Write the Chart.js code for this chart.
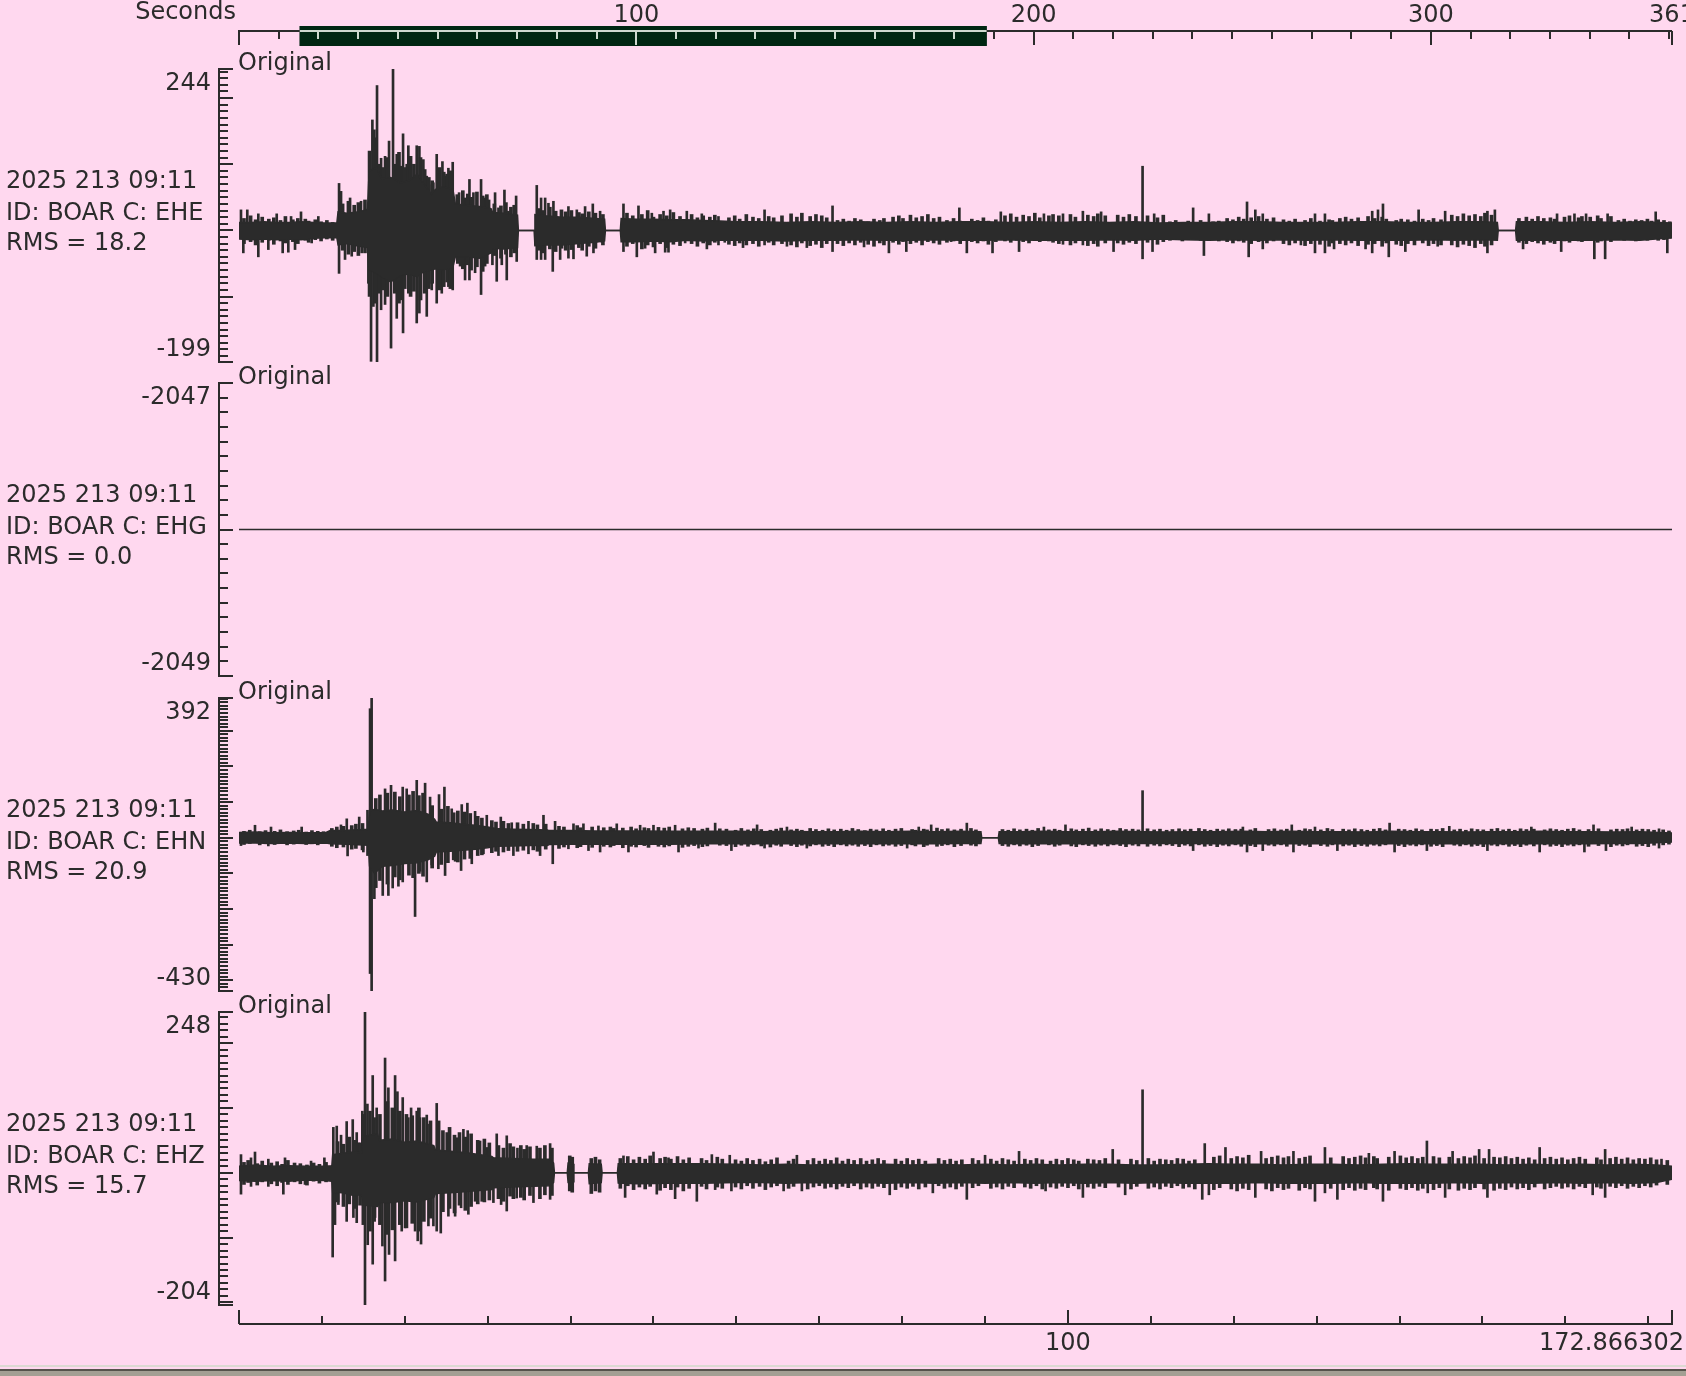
<!DOCTYPE html>
<html>
<head>
<meta charset="utf-8">
<title>BOAR 2025 213 09:11</title>
<script src="https://cdn.jsdelivr.net/npm/chart.js@4.4.1/dist/chart.umd.min.js"></script>
<style>
  html, body { margin: 0; padding: 0; }
  body { width: 1686px; height: 1376px; background: #ffd8ef; position: relative; overflow: hidden; }
  canvas { position: absolute; left: 0; }
  .edge { position: absolute; left: 0; width: 1686px; }
</style>
</head>
<body>
<canvas id="overview" width="1686" height="60" style="top:0"></canvas>
<div class="edge" style="top:1365px;height:2px;background:#dcd9d2"></div>
<div class="edge" style="top:1369px;height:2px;background:#55534b"></div>
<div class="edge" style="top:1371px;height:5px;background:#a39f93"></div>
<script>
// ---- values ----
const startLabel = '2025 213 09:11';
const station = 'BOAR';
const channels = ['EHE', 'EHG', 'EHN', 'EHZ'];
const rmsValues = [18.2, 0.0, 20.9, 15.7];
const countMin = [-199, -2049, -430, -204];
const countMax = [244, -2047, 392, 248];

const recordLength = 360.7;          // whole file, seconds
const windowSpan = [15.3, 188.17];   // selected part of the file
const windowLength = 172.866302;
const overviewTicks = [100, 200, 300];
const windowTicks = [100];

// envelope rows: [t, low, high] (solid body of the trace)
// fringe rows:   [t, low, high] (short wiggles around the body)
// spikes:        [t, count]     (single large swings)
const eheEnvelope = [
  [0,-13,12],[1.5,-14,12],[3,-13,13],[4.5,-14,12],[6,-13,12],[7.5,-14,13],[9,-12,12],[10.3,-11,11],[11.8,-11,11],
  [11.95,-22,28],[13,-20,26],[14.5,-24,28],[15.5,-26,32],
  [15.7,-60,90],[16.6,-65,95],[17.2,-70,78],[18.3,-78,80],[19.5,-68,72],[20.5,-66,75],[21.5,-70,85],[22.3,-62,70],[23.2,-60,55],[23.7,-58,62],[24.6,-60,66],[25.8,-56,62],
  [26.1,-40,40],[27.5,-40,38],[29,-42,36],[30.4,-34,33],
  [30.6,-27,27],[32,-28,26],[33.6,-26,23],
  [33.7,0,0],[35.6,0,0],
  [35.7,-23,24],[37,-22,22],[39,-22,20],[41,-20,20],[43,-18,18],[44.1,-16,17],
  [44.2,0,0],[46.0,0,0],
  [46.1,-17,18],[48,-17,17],[50,-16,17],[52,-17,16],[54,-15,16],[56,-16,15],[58,-15,14],
  [60,-15,13],[63,-15,13],[66,-16,12],[69,-15,13],[72,-15,12],[75,-14,13],[78,-15,12],[81,-15,13],[84,-14,12],[87,-15,13],
  [90,-15,13],[93,-14,12],[96,-15,13],[99,-15,12],[102,-15,13],[105,-14,12],[108,-15,13],[111,-13,11],[114,-14,12],[117,-15,12],
  [120,-14,13],[123,-15,13],[126,-14,12],[129,-15,12],[132,-14,12],[135,-15,13],[138,-15,13],[141,-15,12],[144,-14,12],[147,-15,13],
  [150,-14,13],[151.8,-15,12],[151.9,0,0],[154.0,0,0],[154.1,-15,13],[157,-15,13],[160,-15,12],[163,-15,13],[166,-14,12],[169,-15,13],[172.866,-11,11]
];
const eheFringe = [
  [0.6,-20,18],[1.4,-17,22],[2.0,-22,16],[2.8,-18,20],[3.6,-15,17],[4.2,-21,19],[5.0,-16,15],[5.6,-19,21],[6.5,-17,16],[7.1,-20,18],
  [8.0,-15,17],[8.4,-18,14],[9.2,-14,16],[9.9,-16,13],[10.6,-13,15],[11.3,-15,12],
  [12.5,-30,40],[13.2,-36,44],[13.9,-32,38],[14.4,-38,42],[15.2,-34,46],
  [15.75,-100,120],[16.45,-110,140],[16.9,-95,100],
  [17.4,-90,95],[17.9,-100,110],[18.8,-95,100],[19.3,-110,118],[20.0,-88,95],[20.7,-100,112],[21.1,-92,100],[21.9,-105,110],
  [22.4,-95,92],[22.9,-88,80],[23.3,-80,75],[24.2,-90,95],[24.7,-85,88],[25.1,-78,85],[25.5,-88,90],
  [26.4,-50,48],[27.0,-58,60],[27.6,-52,55],[28.0,-60,50],[28.7,-55,58],[29.4,-62,52],[29.9,-50,54],
  [30.8,-38,40],[31.6,-42,37],[32.2,-36,42],[32.8,-40,35],[33.2,-34,38],
  [36.1,-30,33],[36.7,-34,30],[37.5,-28,35],[38.2,-32,29],[38.9,-27,31],[39.4,-30,28],[40.1,-29,30],[41.0,-26,27],[41.4,-30,25],
  [42.2,-24,28],[43.0,-27,26],[43.9,-22,24],
  [46.8,-24,26],[47.5,-20,22],[48.6,-28,24],[49.3,-22,30],[50.0,-25,20],[50.8,-20,24],[51.6,-26,22],[52.4,-21,27],[53.2,-23,21],
  [54.6,-20,24],[55.3,-24,19],[56.0,-19,22],[56.8,-22,20],[57.4,-18,23],
  [59.1,-21,19],[59.8,-23,22],[60.4,-19,17],[61.2,-22,24],[62.0,-20,20],[62.7,-24,18],[63.9,-18,21],[64.5,-22,19],
  [65.5,-20,22],[66.6,-22,25],[67.3,-25,20],[67.9,-19,26],[68.9,-23,21],[69.6,-21,24],[70.3,-26,22],[70.9,-20,19],
  [72.2,-20,15],[72.9,-23,17],[73.6,-19,14],[74.3,-22,18],[75.0,-18,16],[75.9,-21,13],[76.6,-24,17],[77.3,-19,15],[77.8,-22,18],
  [78.9,-18,20],[79.6,-21,22],[80.1,-17,18],[81.0,-20,23],[81.7,-18,19],[82.4,-22,21],[83.1,-17,24],[83.8,-19,18],[84.5,-21,20],
  [85.4,-18,15],[86.2,-16,18],[87.0,-20,14],[88.4,-17,17],[89.1,-19,15],[89.8,-16,19],[90.4,-21,14],[91.3,-17,16],
  [92.4,-16,22],[93.1,-18,25],[93.8,-15,20],[94.6,-17,23],[95.3,-19,21],[96.0,-15,26],[96.6,-17,19],[97.7,-16,22],[98.2,-18,24],
  [98.9,-20,22],[100.3,-22,24],[100.9,-19,20],[102.4,-23,23],[103.1,-20,21],[103.6,-24,25],[104.5,-19,22],
  [106.0,-19,23],[106.7,-21,20],[107.4,-18,24],[108.2,-20,21],[109.6,-18,22],[110.8,-21,19],[111.5,-17,23],
  [112.3,-15,13],[113.0,-13,15],[113.8,-16,12],[114.5,-14,14],[115.6,-13,12],[116.0,-15,15],[117.5,-14,13],[118.2,-16,14],
  [119.2,-17,18],[119.9,-19,16],[120.6,-16,20],[121.2,-18,17],[122.1,-20,19],[123.0,-17,21],[124.0,-19,17],[124.8,-16,19],
  [126.0,-20,16],[126.7,-22,14],[127.4,-19,17],[128.6,-23,15],[129.3,-20,18],[130.4,-21,14],[131.5,-24,16],[131.9,-19,15],
  [132.8,-20,18],[133.5,-22,20],[134.2,-19,17],[135.0,-23,19],[136.2,-21,21],[137.0,-20,18],[137.9,-24,20],[138.4,-19,17],
  [139.6,-21,15],[140.2,-23,17],[141.0,-20,16],[141.8,-22,14],[142.8,-19,17],[143.5,-23,15],[144.1,-20,18],[145.0,-22,16],
  [146.3,-22,23],[147.0,-25,21],[147.7,-21,25],[148.4,-23,22],[149.1,-26,24],[149.8,-20,21],[150.3,-24,26],[151.1,-22,23],
  [154.4,-18,18],[155.3,-20,20],[156.0,-17,17],[156.7,-19,21],[157.4,-21,18],[158.2,-18,19],[158.7,-20,17],
  [159.9,-16,20],[160.5,-18,22],[161.6,-16,19],[162.0,-17,21],[163.0,-15,20],[163.9,-18,22],[164.3,-16,18],[165.5,-17,21],
  [166.4,-14,15],[167.1,-15,17],[167.8,-13,14],[168.5,-16,16],[169.2,-14,15],[169.9,-15,17],[170.4,-13,14],[171.2,-15,16],
  [171.9,-14,15],[172.6,-12,13]
];
const eheSpikes = [
  [0.24,31],[1.0,31],[2.33,25],[4.55,25],[6.28,21],[7.48,28],[9.57,21],[12.07,71],[12.31,59],[13.4,49],[14.72,44],[15.81,61],
  [16.09,167],[16.33,152],[16.65,219],[17.14,109],[17.62,112],[18.1,135],[18.58,244],[19.03,115],[19.51,97],[19.79,146],[20.23,100],
  [20.43,128],[21.44,128],[21.76,127],[22.24,107],[22.65,82],[22.93,69],[23.45,72],[23.85,115],[24.54,104],[24.94,82],[25.26,94],
  [25.78,103],[26.27,54],[26.55,57],[27.27,49],[27.8,77],[28.28,57],[29.2,77],[29.69,49],[30.17,46],[30.89,57],[31.3,34],[32.02,61],
  [32.5,29],[33.43,52],[35.92,68],[36.44,49],[36.93,49],[37.33,41],[37.93,44],[39.74,36],[40.75,31],[41.75,36],[42.68,40],[43.56,29],
  [46.38,40],[48.19,37],[49.8,26],[51.21,29],[52.01,31],[54.02,29],[55.83,25],[57.84,21],
  [0.52,-34],[2.33,-40],[3.54,-29],[5.27,-34],[5.95,-33],[6.76,-29],[8.77,-19],[12.07,-65],[12.79,-44],[13.6,-39],[14.8,-34],
  [15.61,-80],[15.93,-198],[16.21,-115],[16.65,-199],[17.14,-120],[17.62,-112],[18.34,-178],[19.03,-133],[19.51,-105],[19.79,-155],
  [20.43,-95],[21.44,-140],[21.76,-125],[22.65,-130],[23.25,-90],[23.85,-110],[24.46,-95],[25.26,-85],[25.78,-90],[26.67,-54],
  [27.27,-75],[27.8,-75],[28.48,-64],[29.2,-97],[29.69,-54],[30.57,-52],[31.09,-77],[31.7,-52],[32.3,-75],[33.5,-47],[35.92,-44],
  [36.44,-44],[36.93,-44],[37.85,-62],[38.74,-44],[39.74,-42],[40.35,-43],[41.95,-39],[42.76,-34],[43.77,-18],[46.38,-32],[47.99,-40],
  [48.99,-27],[50.2,-34],[51.41,-33],[51.81,-33],[53.82,-19],[56.44,-28],[57.84,-22],
  [63.4,31],[71.6,37],[86.9,34],[91.9,28],[97.1,25],[99.4,25],[101.8,29],[104.0,28],[109.0,97],[110.4,25],[115.1,34],[117.0,25],
  [121.6,43],[122.6,31],[123.5,25],[129.8,25],[131.0,25],[136.7,29],[137.4,31],[138.0,40],[142.3,31],[145.5,29],[150.6,29],[151.5,31],
  [159.0,25],[161.1,25],[162.5,25],[165.1,25],[170.9,28],
  [58.6,-18],[60.8,-26],[63.4,-22],[66.1,-24],[68.5,-26],[71.6,-32],[75.4,-25],[78.4,-34],[80.5,-32],[85.9,-17],[87.8,-34],[90.9,-34],
  [94.1,-32],[99.4,-21],[101.8,-22],[105.5,-32],[109.0,-43],[110.2,-32],[116.4,-38],[121.8,-40],[123.5,-28],[128.1,-22],[129.8,-34],
  [131.0,-34],[132.1,-28],[135.9,-28],[136.7,-34],[138.7,-40],[140.7,-32],[144.6,-24],[150.6,-34],[154.9,-28],[159.5,-32],[163.5,-43],
  [164.8,-43],[172.3,-34]
];

const ehgTimes = [0, 172.866302];
const ehgCounts = [-2048, -2048];

const ehnEnvelope = [
  [0,-15,15],[2,-15,16],[4,-16,14],[6,-15,15],[8,-16,14],[10.5,-15,15],
  [11,-17,20],[13,-18,21],[15.6,-21,24],
  [15.75,-80,75],[16.35,-100,80],[17.3,-80,75],[18.5,-78,78],[20,-72,72],[21.5,-70,76],[22.8,-62,66],[23.6,-52,52],
  [23.8,-40,44],[25.5,-38,42],[27,-35,38],[28.5,-32,35],[30,-28,30],
  [31,-24,26],[33,-23,24],[35,-22,23],[37.2,-22,22],
  [37.4,-19,20],[40,-18,20],[43,-18,19],[44.3,-18,19],[48,-18,19],[52,-18,18],[56,-17,18],
  [60,-17,18],[63,-17,17],[66,-17,18],[69,-16,17],[72,-17,17],[75,-17,18],[78,-17,17],[81,-16,18],[84,-17,17],[87,-16,18],[89.5,-16,17],
  [89.6,0,0],[91.6,0,0],
  [91.7,-16,17],[94,-17,17],[97,-16,18],[100,-17,17],[103,-16,17],[106,-17,18],[109,-16,17],[112,-16,16],[115,-16,17],[118,-17,17],
  [121,-17,18],[124,-17,17],[127,-17,18],[130,-16,17],[133,-17,17],[136,-16,16],[139,-17,18],[142,-16,17],[145,-17,17],[148,-16,16],
  [151,-17,17],[154,-16,17],[157,-17,18],[160,-16,17],[163,-17,17],[166,-16,16],[169,-16,17],[172.866,-12,13]
];
const ehnFringe = [
  [0.6,-19,18],[1.3,-16,21],[2.5,-20,17],[3.2,-17,20],[4.3,-19,18],[5.0,-16,22],[5.8,-20,17],[6.6,-18,19],[7.2,-15,21],[8.1,-19,16],
  [8.8,-17,20],[9.5,-20,18],[10.2,-16,17],
  [11.2,-24,26],[11.8,-28,30],[12.6,-26,32],[13.6,-32,34],[14.1,-30,38],[14.9,-34,40],
  [16.5,-140,110],[17.0,-120,120],[17.9,-130,125],[18.8,-110,128],[19.4,-118,115],[20.5,-105,120],[21.0,-112,130],[21.7,-100,118],
  [22.2,-108,125],[23.3,-85,90],
  [24.4,-75,80],[25.2,-70,88],[25.9,-62,70],[26.4,-68,75],[27.2,-60,72],[27.9,-58,68],[28.8,-50,60],[29.3,-48,55],
  [30.5,-42,48],[31.0,-38,44],[31.9,-40,46],[32.5,-36,40],[33.6,-38,42],[34.3,-35,38],[35.5,-34,40],[36.0,-38,36],[37.0,-32,38],
  [38.6,-30,32],[39.2,-26,30],[40.8,-28,34],[41.2,-25,28],[42.6,-27,30],[44.0,-24,28],[44.8,-26,30],[45.2,-22,26],[46.3,-28,27],
  [47.3,-24,30],[47.9,-26,25],[48.9,-22,28],[49.4,-27,26],[50.6,-24,29],[51.3,-26,27],[51.9,-23,30],[53.5,-27,25],[54.2,-24,28],
  [54.9,-22,26],[55.9,-25,24],[56.5,-23,27],[58.0,-21,25],
  [58.8,-22,24],[59.9,-25,21],[60.6,-21,26],[61.4,-24,22],[62.1,-20,25],[63.0,-23,23],[64.1,-26,21],[64.8,-21,24],[65.4,-24,27],
  [66.6,-22,22],[67.3,-25,24],[67.9,-21,21],[68.9,-23,26],[69.6,-20,23],[70.4,-24,21],[71.1,-22,25],[71.8,-25,22],[72.6,-20,24],
  [73.3,-23,21],[74.0,-21,26],[74.7,-24,23],[75.5,-22,20],[76.2,-25,24],[76.9,-20,22],[77.7,-23,25],[78.4,-21,21],[79.2,-24,24],
  [79.9,-22,26],[81.2,-20,23],[81.6,-23,21],[82.6,-25,24],[83.0,-21,22],[84.2,-24,27],[84.8,-22,23],[85.5,-20,25],[86.3,-25,22],
  [87.1,-22,24],[88.3,-21,26],[88.9,-23,22],
  [92.1,-22,23],[92.8,-24,21],[93.5,-20,25],[94.2,-23,22],[95.0,-21,24],[95.7,-25,21],[96.4,-22,26],[97.7,-20,22],[98.4,-24,24],
  [99.0,-21,21],[100.4,-23,25],[101.0,-25,22],[101.8,-20,24],[102.5,-22,27],[103.3,-24,22],[104.0,-21,25],[104.8,-23,23],
  [105.5,-20,21],[106.3,-22,26],[107.0,-25,23],[107.8,-21,24],[108.5,-23,22],[109.6,-24,25],[110.4,-21,22],[111.1,-23,24],
  [111.9,-20,21],[112.6,-22,23],[113.4,-25,25],[114.1,-21,22],[114.8,-23,24],[115.8,-20,26],[116.5,-24,23],[117.2,-22,21],
  [118.0,-25,24],[118.7,-21,22],[119.4,-23,25],[120.2,-20,23],[120.9,-24,24],[122.0,-22,22],[122.6,-25,26],[124.2,-21,23],
  [124.9,-23,25],[125.7,-20,22],[126.4,-24,24],[127.9,-22,21],[128.6,-21,25],[129.2,-25,23],[130.5,-22,22],[131.3,-24,26],
  [131.9,-20,23],[133.2,-23,24],[133.9,-21,22],[134.6,-25,25],[135.4,-22,23],[136.1,-24,21],[136.9,-21,24],[137.6,-23,26],
  [138.3,-20,22],[139.9,-22,24],[140.6,-25,23],[141.3,-21,21],[142.0,-23,25],[142.7,-20,22],[143.8,-24,24],[144.5,-22,23],
  [145.2,-25,26],[146.6,-21,22],[147.3,-23,24],[148.0,-20,21],[148.7,-24,25],[149.4,-22,23],[150.1,-25,22],[151.1,-21,24],
  [151.8,-23,26],[152.5,-20,22],[153.2,-24,24],[153.9,-22,21],[154.6,-25,25],[155.3,-21,23],[156.2,-23,24],[157.5,-20,22],
  [158.2,-24,25],[158.9,-22,23],[159.6,-25,21],[160.3,-21,24],[161.0,-23,26],[161.7,-20,22],[162.8,-24,23],[164.0,-22,25],
  [165.5,-25,22],[166.2,-21,24],[166.9,-23,23],[167.5,-20,25],[168.6,-24,22],[169.3,-22,24],[170.0,-25,23],[170.7,-21,21],
  [171.8,-20,22],[172.5,-18,19]
];
const ehnSpikes = [
  [1.93,35],[3.86,30],[7.56,30],[12.3,36],[13.0,53],[14.5,58],[15.5,77],[15.81,362],[16.0,392],[17.62,137],[18.34,147],[19.75,142],
  [20.23,137],[21.44,161],[22.45,153],[23.05,114],[24.13,121],[24.78,142],[25.66,81],[26.87,93],[27.55,97],[28.48,74],[29.89,63],
  [31.58,58],[32.9,42],[34.92,46],[36.73,63],[38.13,46],[40.35,39],[41.55,39],[43.36,33],[45.57,39],[48.39,35],[50.0,35],[52.61,35],[57.44,41],
  [0.24,-22],[3.54,-23],[13.1,-51],[15.0,-40],[15.5,-50],[15.81,-381],[16.0,-430],[16.33,-171],[17.34,-162],[18.02,-162],[18.54,-141],
  [19.23,-136],[19.75,-124],[21.24,-221],[21.84,-94],[22.65,-124],[23.25,-76],[24.05,-87],[24.86,-106],[26.07,-66],[26.79,-92],
  [28.08,-73],[29.49,-45],[31.3,-50],[33.1,-50],[34.92,-45],[36.32,-50],[37.85,-73],[39.74,-31],[42.16,-36],[43.56,-40],[46.98,-40],
  [53.02,-40],[55.43,-29],
  [62.5,36],[66.1,30],[82.0,30],[83.5,36],[87.8,41],[97.1,30],[99.7,36],[109.0,132],[121.1,30],[127.0,36],[129.8,30],[138.8,41],
  [146.0,32],[155.9,30],[163.4,36],[168.0,30],[171.3,25],
  [59.4,-36],[63.4,-29],[68.5,-29],[80.6,-29],[115.1,-36],[121.6,-40],[123.5,-36],[127.2,-40],[132.5,-36],[139.4,-40],[143.3,-36],
  [150.6,-36],[156.9,-40],[162.3,-40],[164.9,-36],[171.3,-29]
];

const ehzEnvelope = [
  [0,-12,10],[2,-13,12],[4,-12,10],[6,-13,11],[8,-11,10],[10.3,-12,10],[11.2,-13,11],
  [11.3,-30,28],[12.5,-31,30],[13.8,-35,32],[14.8,-34,31],
  [14.9,-50,56],[16.7,-52,60],
  [16.95,-46,50],[18.5,-46,52],[20,-43,47],[21.5,-45,49],[23.5,-38,42],
  [23.7,-32,35],[25.5,-31,33],[27.5,-29,31],[30.5,-26,25],
  [30.7,-23,23],[33,-22,22],[35.5,-21,21],[37.5,-20,21],[37.95,-15,15],
  [38.05,0,0],[39.6,0,0],[39.7,-15,15],[40.3,-14,14],[40.4,0,0],[42.15,0,0],[42.25,-17,14],[43.7,-15,13],[43.8,0,0],[45.65,0,0],
  [45.75,-16,14],[48,-17,14],[52,-16,14],[56,-16,14],
  [60,-15,13],[63,-15,12],[66,-16,13],[69,-15,12],[72,-16,13],[75,-15,12],[78,-16,13],[81,-15,12],[84,-16,13],[87,-15,12],
  [90,-16,13],[93,-15,12],[96,-16,13],[99,-15,12],[102,-16,13],[105,-15,13],[108,-16,12],[111,-15,12],[114,-16,13],[117,-16,14],
  [120,-16,13],[123,-15,13],[126,-16,12],[129,-16,13],[132,-16,13],[135,-15,12],[138,-16,13],[141,-16,14],[144,-16,13],[147,-15,13],
  [150,-16,13],[153,-15,12],[156,-16,13],[159,-15,12],[162,-16,13],[165,-15,12],[168,-16,13],[171,-15,12],[172.866,-10,10]
];
const ehzFringe = [
  [0.6,-18,16],[1.1,-15,19],[2.2,-19,14],[2.8,-14,18],[3.9,-17,15],[4.6,-20,17],[5.2,-15,13],[5.9,-18,19],[6.7,-14,15],[7.4,-17,14],
  [8.2,-19,12],[9.0,-13,15],[9.7,-16,13],[10.5,-14,16],
  [11.9,-45,48],[12.6,-52,44],[13.3,-48,55],[14.0,-55,50],[14.6,-50,46],
  [15.0,-80,90],[15.8,-90,95],[16.3,-75,85],
  [17.0,-80,90],[17.9,-95,110],[18.5,-88,100],[19.4,-80,95],[20.2,-85,90],[20.9,-78,88],[21.7,-90,100],[22.3,-75,85],[23.1,-70,80],
  [24.6,-60,65],[25.4,-55,70],[26.0,-62,58],[26.6,-50,62],[27.3,-58,55],[28.0,-52,60],[28.8,-48,50],[29.6,-45,52],[30.2,-42,46],
  [31.3,-40,42],[31.9,-44,38],[32.7,-36,45],[33.1,-40,40],[34.0,-38,42],[34.4,-42,36],[35.1,-35,40],[36.3,-40,38],[36.9,-34,42],
  [37.75,-35,38],[39.9,-28,26],[40.2,-30,24],[42.5,-32,22],[43.0,-28,24],[43.5,-30,20],
  [46.0,-24,22],[46.9,-20,25],[47.6,-26,20],[48.3,-22,24],[49.0,-25,21],[49.6,-21,26],[50.8,-27,22],[51.4,-23,24],[52.1,-26,21],
  [52.9,-22,25],[53.6,-28,20],[54.3,-24,23],[55.8,-21,22],[56.4,-25,19],[57.7,-22,24],[58.3,-24,21],
  [59.9,-22,20],[60.6,-25,18],[61.3,-20,22],[62.0,-24,19],[62.8,-21,21],[63.5,-26,17],[64.2,-22,20],[64.9,-20,23],[66.3,-24,18],
  [66.9,-21,21],[68.6,-25,19],[69.3,-22,22],[70.0,-20,18],[70.7,-24,21],[71.4,-22,19],[72.1,-25,23],[72.8,-21,18],[73.5,-23,21],
  [74.2,-20,19],[75.0,-25,22],[75.7,-22,18],[76.4,-24,20],[77.1,-21,22],[77.8,-23,19],[79.2,-26,21],[79.9,-22,18],[80.6,-24,22],
  [81.3,-21,19],[82.0,-25,21],[82.8,-22,18],[84.4,-20,22],[85.1,-24,19],[85.8,-22,21],[86.5,-25,18],[87.2,-21,20],[88.5,-23,22],
  [89.2,-20,19],[90.7,-24,21],[91.4,-22,18],[92.1,-25,22],[92.8,-21,20],[93.5,-23,18],[94.8,-22,21],[95.5,-24,19],[96.2,-20,22],
  [96.9,-25,20],[97.9,-22,18],[98.6,-24,21],[99.3,-21,19],[100.0,-23,22],[100.7,-20,20],[101.3,-25,18],[102.4,-22,21],[103.1,-24,20],
  [103.8,-21,19],[104.5,-23,22],[106.1,-22,20],[107.6,-25,21],[108.3,-21,19],[109.7,-24,22],[110.4,-22,18],[111.1,-25,21],
  [111.8,-21,20],[112.5,-23,19],[113.2,-20,22],[113.9,-24,21],[114.6,-22,18],[115.3,-25,20],[117.6,-26,24],[118.3,-23,26],
  [119.7,-25,22],[120.4,-28,25],[121.1,-24,23],[121.8,-26,27],[123.9,-25,22],[124.6,-28,24],[125.3,-23,26],[126.0,-26,23],
  [126.6,-24,25],[127.9,-27,22],[128.6,-23,24],[129.2,-25,26],[131.7,-24,23],[133.2,-26,25],[133.9,-23,22],[134.6,-27,24],
  [135.3,-24,26],[135.9,-26,23],[136.9,-23,25],[137.3,-25,22],[138.7,-27,24],[140.1,-24,26],[140.8,-26,23],[141.5,-23,25],
  [142.2,-27,22],[142.8,-24,24],[144.1,-26,25],[144.8,-23,23],[146.0,-25,24],[147.1,-27,22],[147.8,-24,25],[148.5,-26,23],
  [149.1,-23,26],[150.2,-25,22],[151.4,-27,24],[152.1,-24,23],[152.8,-26,25],[153.5,-22,22],[154.2,-25,24],[154.9,-23,21],
  [155.6,-26,23],[156.3,-22,20],[157.5,-25,22],[158.2,-23,24],[158.9,-21,21],[159.6,-24,23],[160.3,-22,20],[161.0,-25,22],
  [161.7,-21,24],[162.4,-23,21],[163.8,-22,23],[164.3,-24,20],[165.4,-21,22],[166.1,-23,24],[166.8,-20,21],[167.5,-24,23],
  [168.2,-21,20],[168.9,-23,22],[169.6,-20,21],[170.3,-22,23],[171.0,-19,20],[172.3,-18,19]
];
const ehzSpikes = [
  [0.24,28],[1.45,23],[1.93,32],[3.54,21],[5.55,23],[8.69,18],[10.3,23],[11.38,70],[11.79,72],[12.31,58],[12.99,79],[13.72,82],
  [14.2,62],[14.48,46],[14.88,95],[15.2,248],[15.49,106],[16.13,150],[16.61,100],[17.62,177],[18.02,131],[18.83,150],[19.11,125],
  [19.75,116],[20.43,85],[20.76,100],[21.44,95],[21.84,85],[22.65,89],[22.97,75],[23.85,107],[24.14,80],[25.06,62],[26.27,54],
  [27.07,67],[27.59,65],[29.08,49],[29.89,39],[31.09,60],[32.3,57],[33.59,38],[34.71,42],[35.92,41],[37.53,45],[46.38,26],[50.0,32],
  [51.81,23],[57.04,28],
  [0.24,-33],[1.45,-21],[3.54,-21],[5.35,-33],[7.96,-18],[11.3,-130],[11.58,-80],[11.99,-49],[12.99,-75],[13.8,-69],[14.2,-77],
  [15.2,-204],[15.53,-111],[16.13,-141],[16.41,-69],[17.3,-113],[17.62,-167],[18.1,-126],[18.83,-136],[19.63,-90],[20.03,-85],
  [21.24,-90],[21.56,-105],[21.96,-110],[22.85,-82],[23.45,-82],[23.85,-90],[24.34,-93],[25.26,-67],[26.07,-67],[26.79,-54],
  [27.67,-64],[28.48,-44],[29.28,-44],[30.69,-46],[31.62,-49],[32.3,-59],[33.5,-39],[35.52,-46],[37.53,-41],[46.58,-38],[50.4,-33],
  [52.61,-40],[55.23,-44],[57.44,-26],
  [59.2,27],[67.3,27],[90.0,27],[94.1,33],[105.4,36],[109.0,128],[116.5,45],[119.0,39],[123.3,33],[127.2,33],[131.0,39],[136.3,30],
  [139.4,33],[143.3,49],[146.4,33],[149.6,36],[150.8,36],[156.9,39],[164.8,36],[171.6,21],
  [59.4,-28],[65.7,-28],[67.9,-28],[78.5,-34],[83.7,-31],[87.8,-41],[97.3,-28],[101.8,-38],[106.9,-34],[116.2,-41],[117.0,-34],
  [122.6,-38],[129.8,-44],[131.0,-31],[132.5,-41],[138.0,-44],[143.4,-31],[145.5,-38],[150.6,-38],[163.3,-34],[164.8,-38]
];

// ---- drawing ----
const ink = '#2b2b2b';
const windowGreen = '#002612';
const font = '24px "DejaVu Sans", sans-serif';
const plotLeft = 239, plotRight = 1672;
const firstTop = 69, pitch = 314.33, span = 293;

// scale of the whole file, drawn across the selected window bar
const overviewFrame = {
  id: 'overviewFrame',
  afterDatasetsDraw(chart) {
    const { ctx, chartArea: area, scales: { x } } = chart;
    const lineY = area.top + 5;
    const scalePath = () => {
      ctx.beginPath();
      ctx.moveTo(area.left - 1, lineY);
      ctx.lineTo(area.right, lineY);
      for (let s = 0; s <= x.max; s += 10) {
        const px = Math.round(x.getPixelForValue(s));
        ctx.moveTo(px, lineY);
        ctx.lineTo(px, lineY + (s % 100 === 0 ? 14 : 8));
      }
      ctx.moveTo(area.right, lineY);
      ctx.lineTo(area.right, lineY + 14);
      ctx.stroke();
    };
    ctx.save();
    ctx.lineWidth = 2;
    ctx.strokeStyle = ink;
    scalePath();
    const bar = chart.getDatasetMeta(0).data[0];
    ctx.save();
    ctx.beginPath();
    ctx.rect(bar.base, area.top, bar.x - bar.base, area.bottom - area.top);
    ctx.clip();
    ctx.strokeStyle = '#cfd8cf';
    scalePath();
    ctx.restore();

    ctx.fillStyle = ink;
    ctx.font = font;
    ctx.textAlign = 'right';
    ctx.fillText('Seconds', area.left - 3, 18.5);
    ctx.textAlign = 'center';
    overviewTicks.forEach(v => ctx.fillText(String(v), x.getPixelForValue(v), 21.5));
    ctx.fillText(String(Math.round(x.max)), area.right, 21.5);
    ctx.restore();
  }
};

// left-hand labels, inward-ticked count axis, and the time axis under the last trace
const panelFrame = {
  id: 'panelFrame',
  afterDatasetsDraw(chart, args, o) {
    const { ctx, chartArea: area, scales: { x, y } } = chart;
    const top = Math.round(y.getPixelForValue(y.max));
    const bot = Math.round(y.getPixelForValue(y.min));
    const ax = area.left - 20;
    ctx.save();
    ctx.strokeStyle = ink;
    ctx.fillStyle = ink;
    ctx.lineWidth = 2;

    ctx.beginPath();
    ctx.moveTo(ax, top - 1);
    ctx.lineTo(ax, bot + 1);
    const k0 = Math.ceil(y.min / o.minor - 1e-6);
    const k1 = Math.floor(y.max / o.minor + 1e-6);
    const marks = [y.min, y.max];
    for (let k = k0; k <= k1; k++) marks.push(k * o.minor);
    marks.forEach(v => {
      const r = v / o.major;
      const major = v === y.min || v === y.max || Math.abs(r - Math.round(r)) < 1e-6;
      const py = Math.round(y.getPixelForValue(v));
      ctx.moveTo(ax, py);
      ctx.lineTo(ax + (major ? 14 : 9), py);
    });
    ctx.stroke();

    ctx.font = font;
    ctx.textAlign = 'right';
    ctx.fillText(String(y.max), ax - 8, top + 21);
    ctx.fillText(String(y.min), ax - 8, bot - 6);

    ctx.textAlign = 'left';
    ctx.fillText('Original', area.left - 1, top + 1);
    const mid = (top + bot) / 2;
    ctx.fillText(startLabel, 6, mid - 27.5);
    ctx.fillText('ID: ' + station + ' C: ' + o.channel, 6, mid + 4.5);
    ctx.fillText('RMS = ' + o.rms.toFixed(1), 6, mid + 34.5);

    if (o.timeAxis) {
      const ly = area.bottom + 19;
      ctx.beginPath();
      ctx.moveTo(area.left, ly);
      ctx.lineTo(area.right + 1, ly);
      for (let s = 0; s <= x.max; s += 10) {
        const px = Math.round(x.getPixelForValue(s));
        ctx.moveTo(px, ly);
        ctx.lineTo(px, ly - (s % 100 === 0 ? 14 : 8));
      }
      ctx.moveTo(area.right, ly);
      ctx.lineTo(area.right, ly - 14);
      ctx.stroke();
      ctx.textAlign = 'center';
      windowTicks.forEach(v => ctx.fillText(String(v), x.getPixelForValue(v), ly + 26));
      ctx.textAlign = 'right';
      ctx.fillText(String(x.max), 1684, ly + 26);
    }
    ctx.restore();
  }
};

function traceSets(envelope, fringe, spikes) {
  const line = { type: 'line', borderColor: ink, borderWidth: 1.5, pointRadius: 0, tension: 0 };
  const strokes = { type: 'bar', backgroundColor: ink, borderWidth: 0, grouped: false };
  return [
    Object.assign({}, line, { data: envelope.map(r => ({ x: r[0], y: r[2] })), fill: '+1', backgroundColor: ink }),
    Object.assign({}, line, { data: envelope.map(r => ({ x: r[0], y: r[1] })), fill: false }),
    Object.assign({}, strokes, { barThickness: 3, data: fringe.map(r => ({ x: r[0], y: [r[1], r[2]] })) }),
    Object.assign({}, strokes, { barThickness: 2, data: spikes.map(s => ({ x: s[0], y: [0, s[1]] })) })
  ];
}

function flatSets(times, counts) {
  return [{
    type: 'line', data: times.map((t, i) => ({ x: t, y: counts[i] })),
    borderColor: ink, borderWidth: 1.5, pointRadius: 0, fill: false
  }];
}

const traceData = [
  traceSets(eheEnvelope, eheFringe, eheSpikes),
  flatSets(ehgTimes, ehgCounts),
  traceSets(ehnEnvelope, ehnFringe, ehnSpikes),
  traceSets(ehzEnvelope, ehzFringe, ehzSpikes)
];
const tickSteps = [[10, 100], [0.1, 1], [10, 100], [10, 100]];

new Chart(document.getElementById('overview'), {
  type: 'bar',
  data: {
    labels: ['window'],
    datasets: [{ data: [windowSpan], backgroundColor: windowGreen, borderWidth: 0, barPercentage: 1, categoryPercentage: 1 }]
  },
  options: {
    indexAxis: 'y',
    responsive: false,
    animation: false,
    events: [],
    layout: { padding: { left: plotLeft, right: 1686 - plotRight, top: 26, bottom: 14 } },
    scales: {
      x: { type: 'linear', min: 0, max: recordLength, display: false, offset: false },
      y: { display: false, offset: true }
    },
    plugins: { legend: { display: false }, tooltip: { enabled: false } }
  },
  plugins: [overviewFrame]
});

channels.forEach((channel, i) => {
  const last = i === channels.length - 1;
  const axisTop = Math.round(firstTop + pitch * i);
  const bottomPad = last ? 70 : 30;
  const canvas = document.createElement('canvas');
  canvas.width = 1686;
  canvas.height = 30 + span + bottomPad;
  canvas.style.top = (axisTop - 30) + 'px';
  document.body.appendChild(canvas);

  new Chart(canvas, {
    type: 'line',
    data: { datasets: traceData[i] },
    options: {
      responsive: false,
      animation: false,
      events: [],
      layout: { padding: { left: plotLeft, right: 1686 - plotRight, top: 30, bottom: bottomPad } },
      scales: {
        x: { type: 'linear', min: 0, max: windowLength, display: false, offset: false },
        y: { type: 'linear', min: countMin[i], max: countMax[i], display: false }
      },
      plugins: {
        legend: { display: false },
        tooltip: { enabled: false },
        panelFrame: {
          channel, rms: rmsValues[i],
          minor: tickSteps[i][0], major: tickSteps[i][1],
          timeAxis: last
        }
      }
    },
    plugins: [panelFrame]
  });
});
</script>
</body>
</html>
